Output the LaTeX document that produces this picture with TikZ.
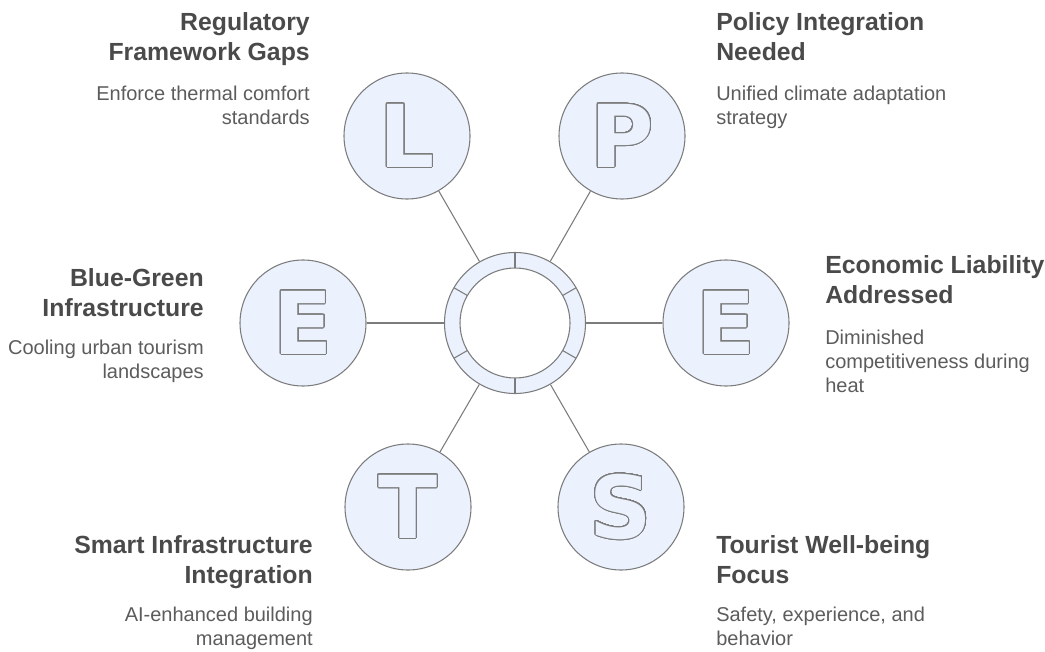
\documentclass[tikz,border=0pt]{standalone}
\usepackage{fontspec}
\setmainfont{Liberation Sans}
\newfontfamily\letterfont{DejaVu Sans}
\usepackage{contour}
\contourlength{0.7pt}
\contournumber{40}
\usetikzlibrary{positioning}

\definecolor{ringfill}{HTML}{EBF2FE}
\definecolor{linegray}{HTML}{7C7C7C}
\definecolor{titlegray}{HTML}{4A4A4A}
\definecolor{descgray}{HTML}{5C5C5C}
\newcommand{\hollow}[1]{\contour{linegray}{\textcolor{ringfill}{#1}}}

\begin{document}
\begin{tikzpicture}[x=0.75pt,y=-0.75pt,
    letternode/.style={circle,draw=linegray,line width=0.8pt,fill=ringfill,minimum size=94.5pt,inner sep=0pt,font=\letterfont\bfseries\fontsize{65}{65}\selectfont},
    titletext/.style={inner sep=0pt,text=titlegray,font=\bfseries\fontsize{18.6}{22.5}\selectfont},
    desctext/.style={inner sep=0pt,text=descgray,font=\fontsize{15}{18}\selectfont}]
    \useasboundingbox (0,0) rectangle (1045,652);

    % hub ring
    \node[circle,draw=linegray,line width=0.8pt,fill=ringfill,minimum size=105.75pt] (hub) at (515,323) {};
    \draw[linegray,line width=0.8pt,fill=white] (hub.center) circle (55);
    \foreach \a in {30,90,...,330}
      \draw[linegray,line width=0.8pt] (hub.center) ++(\a:55) -- ++(\a:15.5);

    % letters
    \node[letternode] (l) at (407,136) {\hollow{L}};
    \node[letternode] (p) at (622,136) {\hollow{P}};
    \node[letternode] (el) at (303,323) {\hollow{E}};
    \node[letternode] (er) at (726,323) {\hollow{E}};
    \node[letternode] (t) at (408,507) {\hollow{T}};
    \node[letternode] (s) at (621,507) {\hollow{S}};

    \path[draw=linegray,line width=0.8pt]
    (hub) edge (l)
    (hub) edge (p)
    (hub) edge (el)
    (hub) edge (er)
    (hub) edge (t)
    (hub) edge (s);

    % texts (base = last line)
    \node[titletext,anchor=base east,align=right] (lt) at (310,61) {Regulatory\\Framework Gaps};
    \node[desctext,anchor=base east,align=right] (ld) at (310,125) {Enforce thermal comfort\\standards};
    \node[titletext,anchor=base west,align=left] (pt) at (716,61) {Policy Integration\\Needed};
    \node[desctext,anchor=base west,align=left] (pd) at (716,125) {Unified climate adaptation\\strategy};
    \node[titletext,anchor=base east,align=right] (elt) at (204,316) {Blue-Green\\Infrastructure};
    \node[desctext,anchor=base east,align=right] (eld) at (204,378) {Cooling urban tourism\\landscapes};
    \node[titletext,anchor=base west,align=left] (ert) at (825,303) {Economic Liability\\Addressed};
    \node[desctext,anchor=base west,align=left] (erd) at (825,392) {Diminished\\competitiveness during\\heat};
    \node[titletext,anchor=base east,align=right] (tt) at (313,583) {Smart Infrastructure\\Integration};
    \node[desctext,anchor=base east,align=right] (td) at (313,645) {AI-enhanced building\\management};
    \node[titletext,anchor=base west,align=left] (st) at (716,583) {Tourist Well-being\\Focus};
    \node[desctext,anchor=base west,align=left] (sd) at (716,645) {Safety, experience, and\\behavior};
\end{tikzpicture}
\end{document}
